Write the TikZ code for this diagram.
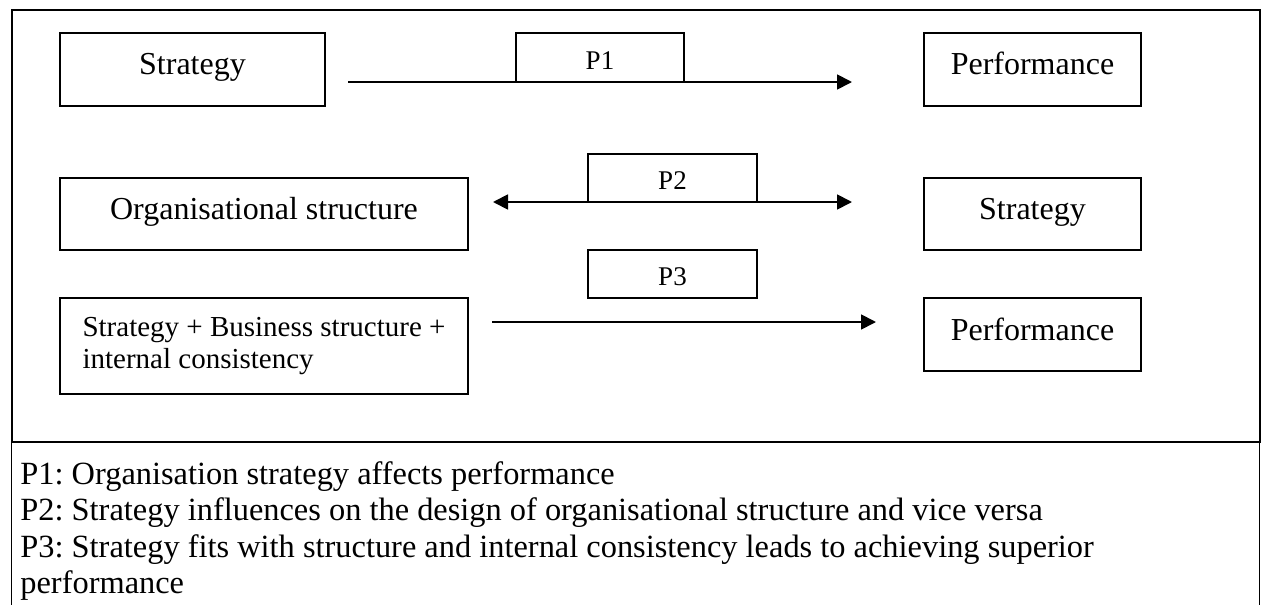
\documentclass[tikz,border=0pt]{standalone}
\usepackage{fontspec}
\setmainfont{Liberation Serif}
\usepackage{tikz}
\usetikzlibrary{arrows.meta}
\frenchspacing
\pgfdeclarelayer{nodelayer}
\pgfdeclarelayer{edgelayer}
\pgfsetlayers{edgelayer,nodelayer,main}
\tikzstyle{box}=[fill=white, draw=black, shape=rectangle, line width=0.9pt, inner sep=0pt, text height=11pt, text depth=5.5pt, font=\fontsize{16}{18}\selectfont]
\tikzstyle{prop box}=[box, text height=11.5pt, text depth=0pt, font=\fontsize{13.5}{15}\selectfont]
\tikzstyle{directed edge double}=[{Triangle[length=7.5pt,width=7.5pt]}-{Triangle[length=7.5pt,width=7.5pt]}, line width=0.9pt]
\tikzstyle{directed edge}=[-{Triangle[length=7.5pt,width=7.5pt]}, line width=0.9pt]

\begin{document}
\begin{tikzpicture}[x=0.5pt, y=-0.5pt]
        	\useasboundingbox (0,0) rectangle (1266,605);
        	\begin{pgfonlayer}{nodelayer}
        		\node [style=box, minimum width=132.5pt, minimum height=36.5pt] (strat) at (192.5, 69.5) {Strategy};
        		\node [style=box, minimum width=108.5pt, minimum height=36.5pt] (perf) at (1032.5, 69.5) {Performance};
        		\node [style=box, minimum width=204pt, minimum height=36pt] (org) at (264, 214) {Organisational structure};
        		\node [style=box, minimum width=108.5pt, minimum height=36pt] (strat2) at (1032.5, 214) {Strategy};
        		\node [style=box, minimum width=204pt, minimum height=48pt, text height=, text depth=, align=left, font=\fontsize{14.5}{15.8}\selectfont] (combo) at (264, 346) {Strategy + Business structure +\\internal consistency};
        		\node [style=box, minimum width=108.5pt, minimum height=36.5pt] (perf2) at (1032.5, 334.5) {Performance};
        		\node [style=prop box, minimum width=84pt, minimum height=24.5pt] (p1) at (600, 57.5) {P1};
        		\node [style=prop box, minimum width=84.5pt, minimum height=24pt] (p2) at (672.5, 178) {P2};
        		\node [style=prop box, minimum width=84.5pt, minimum height=24pt] (p3) at (672.5, 274) {P3};
        		\node [anchor=north west, inner sep=0pt, align=left, font=\fontsize{16.2}{18.2}\selectfont] (legend) at (20, 461) {P1: Organisation strategy affects performance\\P2: Strategy influences on the design of organisational structure and vice versa\\P3: Strategy fits with structure and internal consistency leads to achieving superior\\performance};
        		\coordinate (a1s) at (348, 82);
        		\coordinate (a1e) at (852, 82);
        		\coordinate (a2s) at (493, 202);
        		\coordinate (a2e) at (852, 202);
        		\coordinate (a3s) at (492, 322);
        		\coordinate (a3e) at (876, 322);
        	\end{pgfonlayer}
        	\begin{pgfonlayer}{edgelayer}
        		\draw [line width=1.3pt] (12, 10) rectangle (1260, 442);
        		\draw [line width=0.5pt] (11, 442) -- (11, 606) (1259.5, 442) -- (1259.5, 606);
        		\draw [style=directed edge] (a1s) to (a1e);
        		\draw [style=directed edge double] (a2s) to (a2e);
        		\draw [style=directed edge] (a3s) to (a3e);
        	\end{pgfonlayer}
        \end{tikzpicture}
\end{document}
